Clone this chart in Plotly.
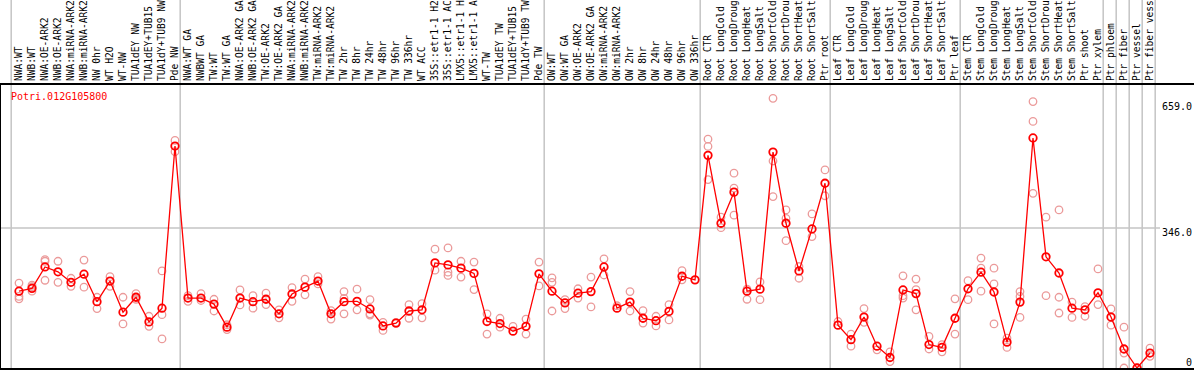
import plotly.graph_objects as go

gene_id = "Potri.012G105800"

categories = [
    "NWA:WT", "NWB:WT", "NWA:OE-ARK2", "NWB:OE-ARK2", "NWA:miRNA-ARK2", "NWB:miRNA-ARK2",
    "NW 0hr", "WT H2O", "WT-NW", "TUA1dEY NW", "TUA1dEY+TUB15", "TUA1dY+TUB9 NW", "Pde NW",
    "NWA:WT GA", "NWBWT GA", "TW:WT", "TW:WT GA", "NWA:OE-ARK2 GA", "NWB:OE-ARK2 GA",
    "TW:OE-ARK2", "TW:OE-ARK2 GA", "NWA:miRNA-ARK2", "NWB:miRNA-ARK2", "TW:miRNA-ARK2",
    "TW:miRNA-ARK2", "TW 2hr", "TW 8hr", "TW 24hr", "TW 48hr", "TW 96hr", "TW 336hr",
    "WT ACC", "35S::etr1-1 H2", "35S::etr1-1 AC", "LMX5::etr1-1 H", "LMX5::etr1-1 A",
    "WT-TW", "TUA1dEY TW", "TUA1dEY+TUB15", "TUA1dY+TUB9 TW", "Pde TW",
    "OW:WT", "OW:WT GA", "OW:OE-ARK2", "OW:OE-ARK2 GA", "OW:miRNA-ARK2", "OW:miRNA-ARK2",
    "OW 2hr", "OW 8hr", "OW 24hr", "OW 48hr", "OW 96hr", "OW 336hr",
    "Root CTR", "Root LongCold", "Root LongDroug", "Root LongHeat", "Root LongSalt",
    "Root ShortCold", "Root ShortDrou", "Root ShortHeat", "Root ShortSalt", "Ptr root",
    "Leaf CTR", "Leaf LongCold", "Leaf LongDroug", "Leaf LongHeat", "Leaf LongSalt",
    "Leaf ShortCold", "Leaf ShortDrou", "Leaf ShortHeat", "Leaf ShortSalt", "Ptr leaf",
    "Stem CTR", "Stem LongCold", "Stem LongDroug", "Stem LongHeat", "Stem LongSalt",
    "Stem ShortCold", "Stem ShortDrou", "Stem ShortHeat", "Stem ShortSalt", "Ptr shoot",
    "Ptr xylem", "Ptr phloem", "Ptr fiber", "Ptr vessel", "Ptr fiber vess",
]

means = [
    190, 197, 250, 238, 212, 232, 164, 215, 138, 175, 114, 148, 549,
    173, 173, 158, 101, 173, 164, 170, 134, 183, 200, 215, 134, 164, 165, 146,
    104, 111, 141, 144, 260, 255, 247, 234, 115, 110, 91, 103, 233,
    190, 161, 185, 189, 250, 148, 163, 123, 117, 140, 227, 218,
    526, 358, 435, 190, 195, 534, 358, 240, 344, 457,
    106, 70, 126, 54, 26, 193, 184, 58, 51, 123,
    196, 237, 188, 64, 163, 569, 275, 235, 148, 144,
    186, 126, 47, 0, 37,
]

replicates = [
    [210, 177, 171], [201, 190, 205], [268, 217, 264], [264, 212], [222, 202],
    [267, 200], [175, 147], [226, 202], [175, 109], [184, 170], [128, 103],
    [240, 132, 72], [563, 535], [179, 165], [184, 167], [170, 141], [107, 95],
    [193, 156], [179, 148], [185, 157], [144, 124], [199, 165], [220, 181],
    [226, 208], [142, 121], [189, 134, 172], [195, 144], [169, 134, 131],
    [113, 93], [113], [157, 123], [159, 124], [294, 242], [297, 237, 229],
    [264, 225], [262, 194], [134, 84], [123, 101], [103], [121, 84], [262, 203],
    [223, 212, 141], [169, 147], [196, 173], [225, 151], [270, 230], [154],
    [189, 141], [142, 111], [128, 104], [157, 119], [241, 218], [],
    [566, 548, 466], [373, 347], [482, 445, 378], [195, 170], [213, 169],
    [667, 512, 424], [391, 370, 315], [251, 222], [381, 325], [490, 426],
    [115], [84, 54], [147, 113], [45], [40, 16], [228, 179, 173],
    [220, 194, 144], [78, 47], [58, 40], [171, 84],
    [216, 169], [272, 247, 190], [247, 208, 109], [74, 51], [189, 177, 125],
    [659, 610, 432], [373, 179], [391, 175, 136], [163, 125], [152, 128],
    [245, 157], [146, 106], [101, 37, 0], [0], [49, 29],
]

# group boundaries (index of first category of each new group)
group_starts = [0, 13, 41, 53, 63, 73, 84, 85, 86, 87, 88]

y_ticks = [0, 346, 659]
y_tick_labels = ["0", "346.0", "659.0"]
y_max = 700

MONO = "DejaVu Sans Mono"
RED = "#ff0000"
PINK = "#eb9a9a"

x_idx = list(range(len(categories)))
rep_x, rep_y = [], []
for i, reps in enumerate(replicates):
    for v in reps:
        rep_x.append(i)
        rep_y.append(v)

W, H = 1194, 370
m_l, m_r, m_t, m_b = 1, 0, 85, 2
plot_w = W - m_l - m_r
plot_h = H - m_t - m_b
step = 13.0
x0 = -18.0 / step
x1 = x0 + plot_w / step

fig = go.Figure()
fig.add_trace(go.Scatter(
    x=rep_x, y=rep_y, mode="markers",
    marker=dict(symbol="circle-open", size=7.5, color=PINK, line=dict(width=1.3)),
    cliponaxis=False, showlegend=False, hoverinfo="skip",
))
fig.add_trace(go.Scatter(
    x=x_idx, y=means, mode="lines+markers",
    line=dict(color=RED, width=1.3),
    marker=dict(symbol="circle-open", size=7.5, color=RED, line=dict(width=1.8)),
    cliponaxis=False, showlegend=False,
))

shapes = []
for k in group_starts:
    shapes.append(dict(
        type="line", xref="x", yref="paper",
        x0=k - 0.6, x1=k - 0.6, y0=0, y1=(plot_h + m_t) / plot_h,
        line=dict(color="#c4c4c4", width=1.5), layer="below",
    ))
shapes.append(dict(
    type="line", xref="paper", yref="y",
    x0=0, x1=(1160 - m_l) / plot_w, y0=y_ticks[1], y1=y_ticks[1],
    line=dict(color="#c4c4c4", width=1.5), layer="below",
))

annotations = [dict(
    text=gene_id, xref="paper", yref="paper",
    x=(9 - m_l) / plot_w, y=(H - m_b - 97) / plot_h,
    xanchor="left", yanchor="middle", showarrow=False,
    font=dict(family=MONO, size=10, color=RED),
)]
label_shifts = [6, -4, -5]
for v, t, s in zip(y_ticks, y_tick_labels, label_shifts):
    annotations.append(dict(
        text=t, xref="paper", yref="y", x=1, y=v, yshift=s,
        xanchor="right", yanchor="middle", showarrow=False,
        font=dict(family=MONO, size=10, color="black"),
    ))

fig.update_layout(
    width=W, height=H,
    margin=dict(l=m_l, r=m_r, t=m_t, b=m_b, pad=0, autoexpand=False),
    paper_bgcolor="white", plot_bgcolor="white",
    shapes=shapes, annotations=annotations,
    xaxis=dict(
        range=[x0, x1], side="top", tickmode="array",
        tickvals=x_idx, ticktext=categories, tickangle=-90,
        tickfont=dict(family=MONO, size=9.6, color="black"),
        ticks="", showgrid=False, zeroline=False, automargin=False,
        showline=True, linecolor="black", linewidth=2, mirror=True,
        fixedrange=True,
    ),
    yaxis=dict(
        range=[0, y_max], showticklabels=False, ticks="",
        showgrid=False, zeroline=False, automargin=False,
        showline=True, linecolor="black", linewidth=2, mirror=True,
        fixedrange=True,
    ),
)

fig.write_html(
    "out.html",
    config={"displayModeBar": False},
    post_script="document.body.style.margin='0';document.body.style.overflow='hidden';",
)
